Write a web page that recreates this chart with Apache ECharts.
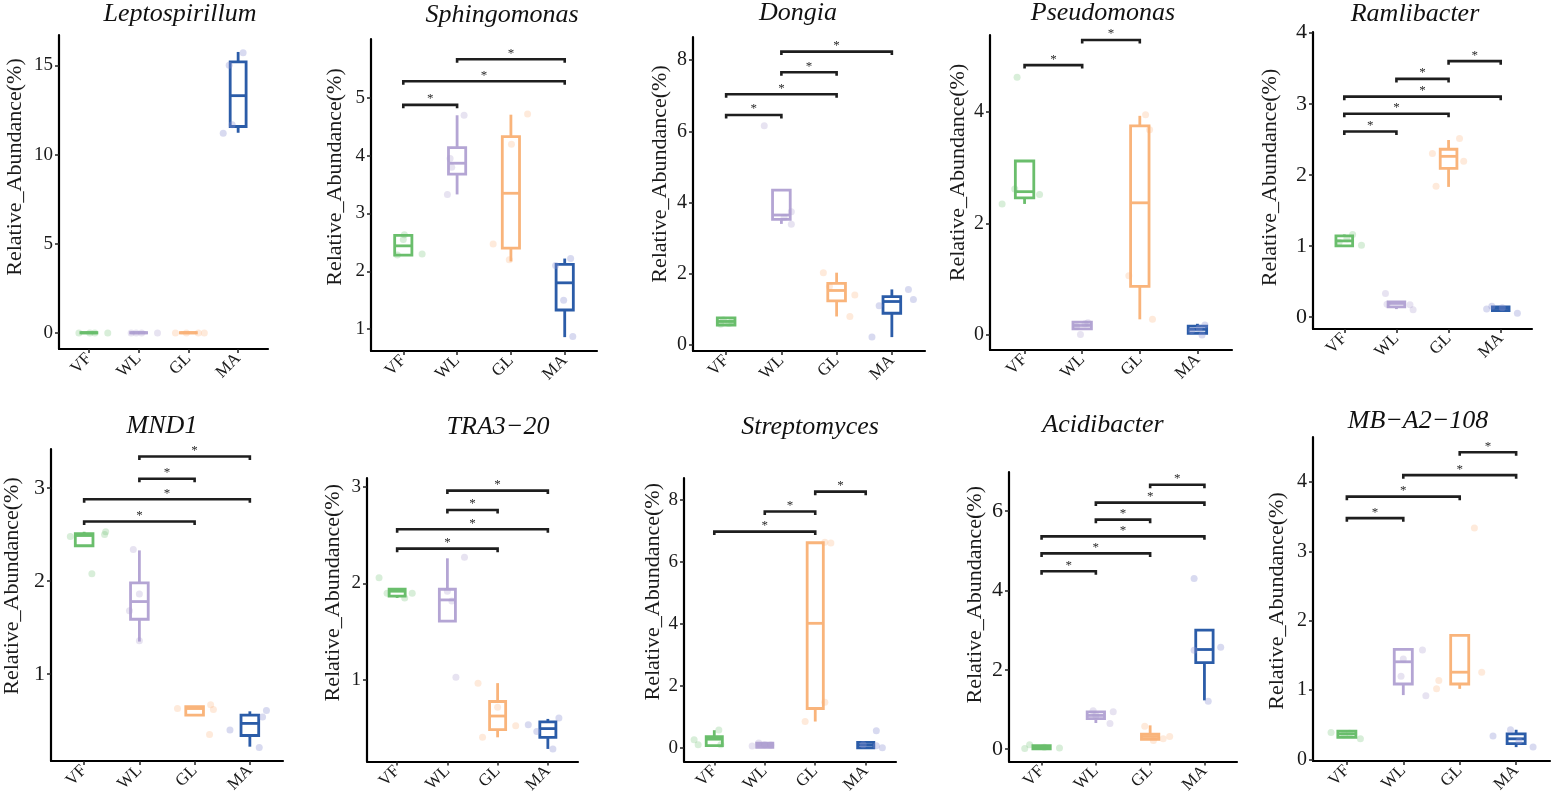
<!DOCTYPE html>
<html>
<head>
<meta charset="utf-8">
<title>Relative abundance boxplots</title>
<script src="https://cdn.jsdelivr.net/npm/echarts@6/dist/echarts.min.js"></script>
<style>
  html, body { margin: 0; padding: 0; background: #fff; }
  #chart { width: 1559px; height: 796px; }
</style>
</head>
<body>
<div id="chart"></div>
<script>
// groups and taxa
var groups = ['VF', 'WL', 'GL', 'MA'];
var taxa = ['Leptospirillum', 'Sphingomonas', 'Dongia', 'Pseudomonas', 'Ramlibacter',
            'MND1', 'TRA3\u221220', 'Streptomyces', 'Acidibacter', 'MB\u2212A2\u2212108'];

// box stats per group: [min, Q1, median, Q3, max]
var leptoBox   = [[0, 0, 0.01, 0.02, 0.03], [0, 0, 0.01, 0.02, 0.03], [0, 0, 0.01, 0.02, 0.03], [11.22, 11.57, 13.3, 15.19, 15.75]];
var sphingoBox = [[2.28, 2.28, 2.44, 2.62, 2.63], [3.33, 3.68, 3.87, 4.14, 4.7], [2.17, 2.4, 3.35, 4.33, 4.71], [0.86, 1.33, 1.8, 2.12, 2.22]];
var dongiaBox  = [[0.56, 0.56, 0.66, 0.76, 0.77], [3.4, 3.53, 3.65, 4.35, 4.35], [0.8, 1.24, 1.53, 1.73, 2.03], [0.22, 0.89, 1.22, 1.36, 1.56]];
var pseudoBox  = [[2.35, 2.46, 2.57, 3.12, 3.12], [0.11, 0.11, 0.17, 0.23, 0.23], [0.28, 0.87, 2.37, 3.75, 3.93], [0.03, 0.03, 0.1, 0.16, 0.2]];
var ramliBox   = [[1.0, 1.0, 1.07, 1.14, 1.16], [0.11, 0.14, 0.19, 0.21, 0.21], [1.83, 2.09, 2.26, 2.36, 2.49], [0.09, 0.09, 0.12, 0.14, 0.14]];
var mnd1Box    = [[2.38, 2.38, 2.49, 2.51, 2.53], [1.35, 1.59, 1.78, 1.98, 2.33], [0.56, 0.56, 0.63, 0.65, 0.65], [0.22, 0.34, 0.47, 0.56, 0.6]];
var traBox     = [[1.85, 1.87, 1.92, 1.94, 1.94], [1.61, 1.61, 1.83, 1.94, 2.26], [0.41, 0.49, 0.63, 0.78, 0.97], [0.29, 0.41, 0.5, 0.57, 0.6]];
var strepBox   = [[0.07, 0.07, 0.28, 0.36, 0.57], [0.02, 0.02, 0.1, 0.15, 0.15], [0.85, 1.27, 4.02, 6.62, 6.62], [0, 0, 0.09, 0.18, 0.18]];
var acidiBox   = [[0.01, 0.01, 0.05, 0.09, 0.09], [0.66, 0.77, 0.85, 0.94, 0.94], [0.25, 0.25, 0.32, 0.38, 0.6], [1.23, 2.18, 2.51, 3.0, 3.0]];
var mbaBox     = [[0.32, 0.32, 0.37, 0.41, 0.41], [0.93, 1.09, 1.41, 1.59, 1.59], [1.02, 1.09, 1.26, 1.79, 1.79], [0.18, 0.23, 0.3, 0.37, 0.43]];

// samples per group: [jitter, value]
var leptoPts   = [[[-0.2, 0], [0.12, 0], [0.38, 0], [0.02, 0]], [[-0.15, 0], [0.06, 0], [0.38, 0], [-0.05, 0]], [[-0.26, 0], [-0.04, 0], [0.2, 0], [0.32, 0]], [[0.1, 15.71], [-0.18, 15.0], [-0.12, 11.67], [-0.3, 11.2]]];
var sphingoPts = [[[0.02, 2.63], [-0.11, 2.28], [0.35, 2.3], [0, 2.55]], [[0.13, 4.7], [-0.18, 3.33], [-0.13, 3.95], [-0.1, 3.8]], [[0.31, 4.72], [0.01, 4.2], [-0.33, 2.47], [-0.03, 2.2]], [[0.11, 2.22], [-0.17, 2.1], [-0.02, 1.5], [0.15, 0.87]]];
var dongiaPts  = [[[-0.05, 0.7], [0.05, 0.6], [0.1, 0.66], [-0.1, 0.58]], [[-0.31, 6.16], [0.18, 3.74], [0.18, 3.39], [0.05, 3.58]], [[-0.24, 2.03], [0.33, 1.4], [0.24, 0.8], [-0.13, 1.64]], [[-0.36, 0.22], [-0.23, 1.1], [0.3, 1.56], [0.39, 1.28]]];
var pseudoPts  = [[[-0.13, 4.62], [-0.39, 2.35], [0.26, 2.52], [-0.17, 2.62]], [[-0.03, 0.01], [0.05, 0.2], [-0.1, 0.15], [0.1, 0.22]], [[0.1, 3.95], [0.17, 3.68], [-0.19, 1.06], [0.22, 0.28]], [[0.08, 0], [0.13, 0.18], [-0.1, 0.08], [0.03, 0.12]]];
var ramliPts   = [[[0.16, 1.16], [0.33, 1.01], [-0.1, 1.05], [0.05, 1.1]], [[-0.21, 0.33], [0.26, 0.17], [0.32, 0.1], [-0.18, 0.18]], [[0.21, 2.51], [-0.31, 2.3], [0.29, 2.19], [-0.24, 1.84]], [[-0.27, 0.11], [-0.17, 0.15], [0.32, 0.05], [0.03, 0.13]]];
var mnd1Pts    = [[[-0.25, 2.48], [0.14, 2.08], [0.37, 2.5], [0.39, 2.53]], [[-0.11, 2.34], [0, 1.86], [-0.18, 1.68], [0, 1.36]], [[-0.31, 0.63], [0.29, 0.67], [0.34, 0.62], [0.27, 0.35]], [[-0.36, 0.4], [0.23, 0.54], [0.3, 0.61], [0.17, 0.21]]];
var traPts     = [[[-0.36, 2.06], [-0.2, 1.9], [0.15, 1.85], [0.3, 1.9]], [[0.34, 2.27], [0.17, 1.03], [0.09, 1.82], [0, 1.92]], [[-0.39, 0.97], [0, 0.72], [-0.3, 0.41], [0.36, 0.53]], [[-0.39, 0.54], [0.22, 0.61], [-0.22, 0.47], [0.1, 0.29]]];
var strepPts   = [[[-0.4, 0.26], [-0.32, 0.1], [0.09, 0.58], [0.13, 0.1]], [[-0.25, 0.06], [-0.12, 0.16], [0.12, 0.09], [0, 0.1]], [[0.19, 6.64], [0.31, 6.61], [0.19, 1.47], [-0.2, 0.85]], [[0.21, 0.55], [0.21, 0.07], [0.33, 0], [-0.05, 0.1]]];
var acidiPts   = [[[-0.31, 0.02], [-0.22, 0.11], [0.33, 0.03], [0.05, 0.05]], [[0.32, 0.94], [0.26, 0.65], [-0.05, 0.97], [0, 0.85]], [[-0.1, 0.58], [0.06, 0.22], [0.24, 0.26], [0.36, 0.32]], [[-0.19, 4.3], [0.3, 2.57], [-0.19, 2.49], [0.07, 1.21]]];
var mbaPts     = [[[-0.28, 0.39], [0.24, 0.3], [0.05, 0.38], [-0.05, 0.36]], [[0.34, 1.58], [-0.04, 1.2], [0.4, 0.92], [0, 1.45]], [[0.26, 3.34], [0.39, 1.26], [-0.37, 1.14], [-0.41, 1.02]], [[-0.41, 0.34], [-0.1, 0.43], [0.3, 0.18], [0.05, 0.27]]];

// significance brackets: [from group, to group, height]
var leptoSig   = [];
var sphingoSig = [[0, 1, 4.88], [0, 3, 5.29], [1, 3, 5.67]];
var dongiaSig  = [[0, 1, 6.46], [0, 2, 7.04], [1, 2, 7.66], [1, 3, 8.24]];
var pseudoSig  = [[0, 1, 4.84], [1, 2, 5.29]];
var ramliSig   = [[0, 1, 2.61], [0, 2, 2.86], [0, 3, 3.1], [1, 2, 3.35], [2, 3, 3.6]];
var mnd1Sig    = [[0, 2, 2.64], [0, 3, 2.88], [1, 2, 3.1], [1, 3, 3.34]];
var traSig     = [[0, 2, 2.36], [0, 3, 2.56], [1, 2, 2.76], [1, 3, 2.96]];
var strepSig   = [[0, 2, 6.98], [1, 2, 7.63], [2, 3, 8.27]];
var acidiSig   = [[0, 1, 4.48], [0, 2, 4.93], [0, 3, 5.36], [1, 2, 5.78], [1, 3, 6.21], [2, 3, 6.66]];
var mbaSig     = [[0, 1, 3.48], [0, 2, 3.79], [1, 3, 4.1], [2, 3, 4.43]];

// y tick labels
var leptoTicks = [0, 5, 10, 15];
var sphingoTicks = [1, 2, 3, 4, 5];
var dongiaTicks = [0, 2, 4, 6, 8];
var pseudoTicks = [0, 2, 4];
var ramliTicks = [0, 1, 2, 3, 4];
var mnd1Ticks = [1, 2, 3];
var traTicks = [1, 2, 3];
var strepTicks = [0, 2, 4, 6, 8];
var acidiTicks = [0, 2, 4, 6];
var mbaTicks = [0, 1, 2, 3, 4];

var boxes = [leptoBox, sphingoBox, dongiaBox, pseudoBox, ramliBox, mnd1Box, traBox, strepBox, acidiBox, mbaBox];
var points = [leptoPts, sphingoPts, dongiaPts, pseudoPts, ramliPts, mnd1Pts, traPts, strepPts, acidiPts, mbaPts];
var sigs = [leptoSig, sphingoSig, dongiaSig, pseudoSig, ramliSig, mnd1Sig, traSig, strepSig, acidiSig, mbaSig];
var ticks = [leptoTicks, sphingoTicks, dongiaTicks, pseudoTicks, ramliTicks, mnd1Ticks, traTicks, strepTicks, acidiTicks, mbaTicks];

// panel placement (pixels) and axis ranges
var layout = [
  { l: 59,   r: 268,  t: 35,  b: 349, yMin: -0.9,  yMax: 16.7,  tx: 180,  ty: 14,  gap: 33, shift: 25, fs: 19 },
  { l: 371,  r: 597,  t: 39,  b: 351, yMin: 0.62,  yMax: 6.02,  tx: 502,  ty: 15,  gap: 25, shift: 18, fs: 19 },
  { l: 693,  r: 925,  t: 37,  b: 351, yMin: -0.17, yMax: 8.65,  tx: 798,  ty: 13,  gap: 22, shift: 20, fs: 20 },
  { l: 990,  r: 1232, t: 35,  b: 350, yMin: -0.27, yMax: 5.38,  tx: 1103, ty: 13,  gap: 21, shift: 20, fs: 20 },
  { l: 1313, r: 1532, t: 32,  b: 329, yMin: -0.17, yMax: 4.01,  tx: 1415, ty: 14,  gap: 32, shift: 3,  fs: 22 },
  { l: 49,   r: 283,  t: 449, b: 761, yMin: 0.066, yMax: 3.42,  tx: 162,  ty: 426, gap: 28, shift: 19, fs: 22 },
  { l: 367,  r: 578,  t: 478, b: 765, yMin: 0.16,  yMax: 3.09,  tx: 498,  ty: 427, gap: 23, shift: 27, fs: 19 },
  { l: 684,  r: 896,  t: 478, b: 766, yMin: -0.44, yMax: 8.71,  tx: 810,  ty: 427, gap: 20, shift: 28, fs: 19 },
  { l: 1009, r: 1237, t: 472, b: 765, yMin: -0.31, yMax: 6.98,  tx: 1103, ty: 425, gap: 23, shift: 22, fs: 22 },
  { l: 1313, r: 1550, t: 437, b: 761, yMin: -0.02, yMax: 4.65,  tx: 1418, ty: 421, gap: 25, shift: -2, fs: 20 }
];

var lineColors = ['#6abe6c', '#b4a5d4', '#f9b47b', '#2b5ca8'];
var dotColors = ['rgba(106,190,110,0.32)', 'rgba(170,155,205,0.35)', 'rgba(250,175,115,0.32)', 'rgba(140,145,210,0.42)'];
var serif = '"Liberation Serif", "Times New Roman", serif';

var chart = echarts.init(document.getElementById('chart'));

function renderBox(params, api) {
  var g = api.value(0);
  var half = api.size([1, 0])[0] * 0.16;
  var pMin = api.coord([g, api.value(1)]);
  var pQ1 = api.coord([g, api.value(2)]);
  var pMed = api.coord([g, api.value(3)]);
  var pQ3 = api.coord([g, api.value(4)]);
  var pMax = api.coord([g, api.value(5)]);
  var c = lineColors[g];
  var st = { stroke: c, lineWidth: 2.8, fill: 'none' };
  return {
    type: 'group',
    children: [
      { type: 'line', shape: { x1: pQ3[0], y1: pQ3[1], x2: pMax[0], y2: pMax[1] }, style: st },
      { type: 'line', shape: { x1: pQ1[0], y1: pQ1[1], x2: pMin[0], y2: pMin[1] }, style: st },
      { type: 'rect', shape: { x: pQ3[0] - half, y: pQ3[1], width: half * 2, height: pQ1[1] - pQ3[1] },
        style: { stroke: c, lineWidth: 2.8, fill: '#fff' } },
      { type: 'line', shape: { x1: pMed[0] - half, y1: pMed[1], x2: pMed[0] + half, y2: pMed[1] }, style: st }
    ]
  };
}

function renderSig(params, api) {
  var a = api.coord([api.value(0), api.value(2)]);
  var b = api.coord([api.value(1), api.value(2)]);
  return {
    type: 'group',
    children: [
      { type: 'polyline',
        shape: { points: [[a[0], a[1] + 3.5], [a[0], a[1]], [b[0], b[1]], [b[0], b[1] + 3.5]] },
        style: { stroke: '#1e1e1e', lineWidth: 2.6, fill: 'none' } },
      { type: 'text', x: (a[0] + b[0]) / 2, y: a[1] - 6,
        style: { text: '*', font: '13px ' + serif, fill: '#2a2a2a',
                 align: 'center', verticalAlign: 'middle', textAlign: 'center', textVerticalAlign: 'middle' } }
    ]
  };
}

var grid = [], xAxis = [], yAxis = [], series = [], graphic = [];

layout.forEach(function (p, i) {
  grid.push({ left: p.l, top: p.t, width: p.r - p.l, height: p.b - p.t });

  xAxis.push({
    type: 'value', gridIndex: i, min: -0.6, max: 3.6,
    splitLine: { show: false },
    axisLine: { show: true, onZero: false, lineStyle: { color: '#000', width: 2.2 } },
    axisTick: { show: true, customValues: [0, 1, 2, 3], length: 4, lineStyle: { color: '#222', width: 1.5 } },
    axisLabel: {
      customValues: [0, 1, 2, 3], rotate: 45, margin: 7,
      fontFamily: serif, fontSize: 17, color: '#1a1a1a',
      formatter: function (v) { return groups[Math.round(v)]; }
    }
  });

  yAxis.push({
    type: 'value', gridIndex: i, min: p.yMin, max: p.yMax,
    name: 'Relative_Abundance(%)', nameLocation: 'middle', nameGap: p.gap,
    nameTextStyle: {
      fontFamily: serif, fontSize: 22, color: '#1a1a1a',
      padding: p.shift >= 0 ? [0, 0, 0, p.shift * 2] : [0, -p.shift * 2, 0, 0]
    },
    splitLine: { show: false },
    axisLine: { show: true, onZero: false, lineStyle: { color: '#000', width: 2.2 } },
    axisTick: { show: true, customValues: ticks[i], length: 4, lineStyle: { color: '#222', width: 1.5 } },
    axisLabel: { customValues: ticks[i], margin: 6, fontFamily: serif, fontSize: p.fs, color: '#1a1a1a' }
  });

  series.push({
    type: 'custom', xAxisIndex: i, yAxisIndex: i,
    renderItem: renderBox,
    encode: { x: 0, y: [1, 2, 3, 4, 5] },
    data: boxes[i].map(function (s, g) { return [g].concat(s); }),
    z: 2
  });

  var dots = [];
  points[i].forEach(function (grp, g) {
    grp.forEach(function (pt) {
      dots.push({ value: [g + pt[0], pt[1]], itemStyle: { color: dotColors[g] } });
    });
  });
  series.push({
    type: 'scatter', xAxisIndex: i, yAxisIndex: i,
    symbolSize: 7, data: dots, z: 3, silent: true
  });

  if (sigs[i].length) {
    series.push({
      type: 'custom', xAxisIndex: i, yAxisIndex: i,
      renderItem: renderSig,
      encode: { x: [0, 1], y: 2 },
      data: sigs[i], z: 4
    });
  }

  graphic.push({
    type: 'text', x: p.tx, y: p.ty,
    style: { text: taxa[i], font: 'italic 26px ' + serif, fill: '#111',
             align: 'center', verticalAlign: 'middle', textAlign: 'center', textVerticalAlign: 'middle' }
  });
});

chart.setOption({
  animation: false,
  backgroundColor: '#fff',
  grid: grid,
  xAxis: xAxis,
  yAxis: yAxis,
  series: series,
  graphic: graphic
});
</script>
</body>
</html>
